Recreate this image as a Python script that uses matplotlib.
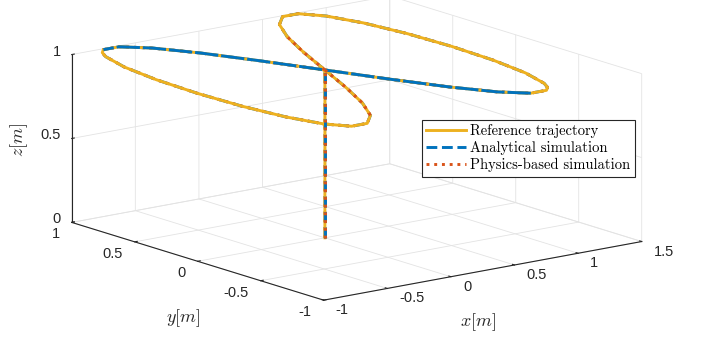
import numpy as np
import matplotlib
matplotlib.use('Agg')
import matplotlib.pyplot as plt
from mpl_toolkits.mplot3d import proj3d

plt.rcParams['font.family'] = 'Liberation Sans'
plt.rcParams['mathtext.fontset'] = 'cm'

# vertical climb from the ground to the hover point
climb_x = [0.0, 0.0]
climb_y = [0.0, 0.0]
climb_z = [0.0, 1.0]

# figure-eight at 1 m
eight_x = [0.0, 0.174, 0.342, 0.5, 0.643, 0.766, 0.866, 0.94, 0.985, 1.0,
           0.985, 0.94, 0.866, 0.819, 0.766, 0.643, 0.5, 0.342, 0.174, 0.0,
           -0.174, -0.342, -0.5, -0.643, -0.766, -0.819, -0.866, -0.94, -0.985, -1.0,
           -0.985, -0.94, -0.866, -0.766, -0.643, -0.5, -0.342, -0.174, 0.0]
eight_y = [0.0, 0.342, 0.643, 0.866, 0.985, 0.985, 0.866, 0.643, 0.342, 0.0,
           -0.342, -0.643, -0.866, -0.94, -0.985, -0.985, -0.866, -0.643, -0.342, 0.0,
           0.342, 0.643, 0.866, 0.985, 0.985, 0.94, 0.866, 0.643, 0.342, 0.0,
           -0.342, -0.643, -0.866, -0.985, -0.985, -0.866, -0.643, -0.342, 0.0]
eight_z = [1.0] * len(eight_x)

xticks = [-1, -0.5, 0, 0.5, 1, 1.5]
yticks = [-1, -0.5, 0, 0.5, 1]
zticks = [0, 0.5, 1]
xtick_labels = ['-1', '-0.5', '0', '0.5', '1', '1.5']
ytick_labels = ['-1', '-0.5', '0', '0.5', '1']
ztick_labels = ['0', '0.5', '1']
labels = ['Reference trajectory', 'Analytical simulation', 'Physics-based simulation']

c_ref, c_ana, c_phy = '#EDB120', '#0072BD', '#D95319'
dark = '#262626'
W, H = 703, 339

px_x = np.array(climb_x + eight_x)
px_y = np.array(climb_y + eight_y)
px_z = np.array(climb_z + eight_z)
n0 = len(climb_x)

fig = plt.figure(figsize=(W / 100, H / 100), dpi=100)
ax = fig.add_axes([0, 0, 1, 1], projection='3d', proj_type='ortho',
                  computed_zorder=False)
ax.view_init(elev=13.8, azim=-127.7)
zoom = 1.0
ax.set_box_aspect((1, 1.025, 0.43), zoom=zoom)

lines = []
# reference on the middle layer, simulations below, visible stretches on top
lines += ax.plot(px_x, px_y, px_z, color=c_ana, lw=2.1, ls='--', zorder=1)
lines += ax.plot(px_x, px_y, px_z, color=c_phy, lw=2.1, ls=':', zorder=1)
ref, = ax.plot(px_x, px_y, px_z, color=c_ref, lw=2.1, zorder=2, label=labels[0])
s = slice(n0 + 15, n0 + 25)
lines += ax.plot(px_x[s], px_y[s], px_z[s], color=c_ana, lw=2.1, ls=(0, (8, 1)),
                 zorder=3)
ana, = ax.plot(px_x[:n0], px_y[:n0], px_z[:n0], color=c_ana, lw=2.1, ls='--',
               zorder=3, label=labels[1])
phy, = ax.plot(px_x[:n0], px_y[:n0], px_z[:n0], color=c_phy, lw=2.1, ls=':',
               zorder=4, label=labels[2])
s = slice(n0 + 35, None)
lines += ax.plot(px_x[s], px_y[s], px_z[s], color=c_phy, lw=2.1, ls=':', zorder=4)
s = slice(n0, n0 + 3)
lines += ax.plot(px_x[s], px_y[s], px_z[s], color=c_phy, lw=2.1, ls=':', zorder=4)
for ln in lines + [ref, ana, phy]:
    ln.set_clip_on(False)

ax.set_xlim(-1, 1.5)
ax.set_ylim(-1, 1)
ax.set_zlim(0, 1)
ax.set_xticks(xticks)
ax.set_yticks(yticks)
ax.set_zticks(zticks)
ax.set_xticklabels([])
ax.set_yticklabels([])
ax.set_zticklabels([])
ax.tick_params(colors=dark)

for a in (ax.xaxis, ax.yaxis, ax.zaxis):
    a.set_pane_color((1, 1, 1, 0))
    a.pane.set_edgecolor(dark)
    a.pane.set_linewidth(0.8)
    a.line.set_color(dark)
    a.line.set_linewidth(0.8)
    a._axinfo['grid'].update(color='#e3e3e3', linewidth=0.6)
    a._axinfo['tick'].update(inward_factor=0.0, outward_factor=0.1)

# fit the box to the reference corners
corners = np.array([[-1, 1, 0], [-1, -1, 0], [1.5, -1, 0], [1.5, 1, 0],
                    [-1, 1, 1], [1.5, 1, 1], [1.5, -1, 1]], float)
target = np.array([[70, 220], [320, 297], [640, 240], [395, 165],
                   [70, 55], [395, 0], [640, 75]], float)


def to_px(pts):
    fig.canvas.draw()
    pts = np.asarray(pts, float)
    u, v, _ = proj3d.proj_transform(*pts.T, ax.get_proj())
    d = ax.transData.transform(np.column_stack([u, v]))
    d[:, 1] = H - d[:, 1]
    return d


d = to_px(corners)
sc = np.ptp(target[:, 0]) / np.ptp(d[:, 0])
ax.set_box_aspect((1, 1.025, 0.43), zoom=zoom * sc)
d = to_px(corners)
off = (target - d).mean(axis=0)
ax.set_position([off[0] / W, -off[1] / H, 1, 1])

# tick labels, MATLAB style
tk = dict(fontsize=10.5, color=dark, va='center')
for v, t, (px, py) in zip(xticks, xtick_labels, to_px([[v, -1, 0] for v in xticks])):
    fig.text((px + 12) / W, 1 - (py + 10) / H, t, ha='left', **tk)
for v, t, (px, py) in zip(yticks, ytick_labels, to_px([[-1, v, 0] for v in yticks])):
    fig.text((px - 12) / W, 1 - (py + 12) / H, t, ha='right', **tk)
for v, t, (px, py) in zip(zticks, ztick_labels, to_px([[-1, 1, v] for v in zticks])):
    fig.text((px - 11) / W, 1 - (py - 3) / H, t, ha='right', **tk)

# axis labels
fig.text(183 / W, 1 - 318 / H, r'$y[m]$', fontsize=13, color=dark,
         ha='center', va='center')
fig.text(478 / W, 1 - 322 / H, r'$x[m]$', fontsize=13, color=dark,
         ha='center', va='center')
fig.text(19 / W, 1 - 140 / H, r'$z[m]$', fontsize=13, color=dark,
         ha='center', va='center', rotation=90)

leg = fig.legend(handles=[ref, ana, phy], loc='upper left',
                 bbox_to_anchor=(422 / W, 1 - 120 / H), fancybox=False,
                 framealpha=1, edgecolor=dark, prop={'family': 'cmr10', 'size': 10.5},
                 handlelength=2.7, handletextpad=0.3, borderpad=0.3,
                 labelspacing=0.2, borderaxespad=0)
leg.get_frame().set_linewidth(0.8)

fig.savefig('out.png', dpi=100)
